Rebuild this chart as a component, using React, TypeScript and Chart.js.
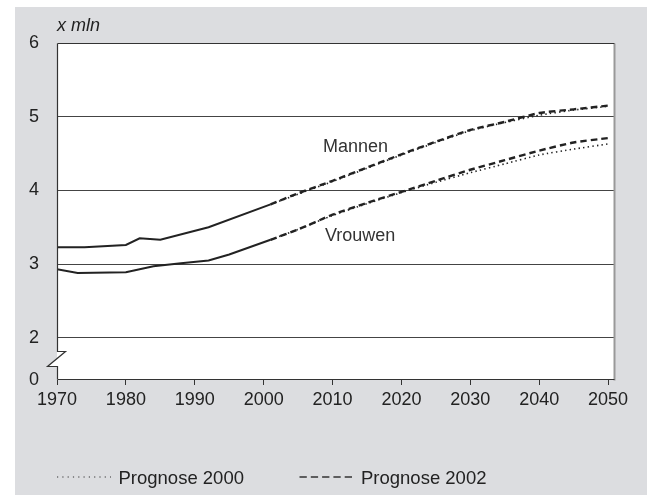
import React, { useEffect, useRef } from 'react';
import { Chart, registerables } from 'chart.js';

Chart.register(...registerables);

// ---- data ----
const mannenHistYears = [1970, 1974, 1980, 1982, 1985, 1992, 2001];
const mannenHist = [3.23, 3.23, 3.26, 3.35, 3.33, 3.5, 3.81];

const vrouwenHistYears = [1970, 1973, 1980, 1984, 1988, 1992, 1995, 2001];
const vrouwenHist = [2.93, 2.88, 2.89, 2.97, 3.01, 3.05, 3.13, 3.33];

const projYears = [2001, 2005, 2010, 2015, 2020, 2025, 2030, 2035, 2040, 2045, 2050];
const mannen2002 = [3.81, 3.96, 4.13, 4.31, 4.49, 4.66, 4.82, 4.93, 5.05, 5.1, 5.15];
const mannen2000 = [3.81, 3.95, 4.12, 4.3, 4.48, 4.65, 4.81, 4.92, 5.02, 5.09, 5.14];
const vrouwen2002 = [3.33, 3.47, 3.67, 3.83, 3.98, 4.13, 4.28, 4.41, 4.54, 4.65, 4.71];
const vrouwen2000 = [3.33, 3.47, 3.66, 3.82, 3.97, 4.11, 4.24, 4.36, 4.48, 4.56, 4.63];

const xTickValues = [1970, 1980, 1990, 2000, 2010, 2020, 2030, 2040, 2050];
const yTickValues = [0, 2, 3, 4, 5, 6];
const yTickLabels = ['0', '2', '3', '4', '5', '6'];
const gridValues = [2, 3, 4, 5];

const unitLabel = 'x mln';
const seriesLabels = [
  { text: 'Mannen', year: 2008.6, value: 4.52 },
  { text: 'Vrouwen', year: 2008.9, value: 3.31 },
];
const legendLabels = ['Prognose 2000', 'Prognose 2002'];

// the y axis is broken: value 0 is drawn at this position
const BREAK_POS = 1.427;

const FONT = "'Liberation Sans', Arial, Helvetica, sans-serif";
const INK = '#222';
const BG = '#dcdde0';

const pts = (xs: number[], ys: number[]) => xs.map((x, i) => ({ x, y: ys[i] }));
const mapY = (v: number) => (v === 0 ? BREAK_POS : v);

export default function App() {
  const ref = useRef<HTMLCanvasElement>(null);

  useEffect(() => {
    const canvas = ref.current!;
    const decor = {
      id: 'decor',
      beforeDraw(chart: any) {
        const { ctx, chartArea: a } = chart;
        ctx.save();
        ctx.fillStyle = '#fff';
        ctx.fillRect(0, 0, chart.width, chart.height);
        ctx.fillStyle = BG;
        ctx.fillRect(15, 7, chart.width - 15, chart.height - 7);
        ctx.fillStyle = '#fff';
        ctx.fillRect(a.left, a.top, a.right - a.left, a.bottom - a.top);
        ctx.restore();
      },
      afterDraw(chart: any) {
        const { ctx, chartArea: a, scales } = chart;
        const xs = scales.x;
        const ys = scales.y;
        ctx.save();
        const L = Math.round(a.left) + 0.5;
        const T = Math.round(a.top) + 0.5;
        const R = Math.round(a.right) - 0.5;
        const B = Math.round(a.bottom) - 0.5;
        // right border (gray)
        ctx.strokeStyle = '#999';
        ctx.lineWidth = 2;
        ctx.beginPath();
        ctx.moveTo(R, T);
        ctx.lineTo(R, B + 1);
        ctx.stroke();
        // top, bottom
        ctx.strokeStyle = '#333';
        ctx.lineWidth = 1.2;
        ctx.beginPath();
        ctx.moveTo(L, T);
        ctx.lineTo(R, T);
        ctx.moveTo(L, B);
        ctx.lineTo(R, B);
        ctx.stroke();
        // left axis with break
        const z1 = B - 28;
        const z2 = B - 13;
        ctx.fillStyle = '#fff';
        ctx.beginPath();
        ctx.moveTo(L, z1);
        ctx.lineTo(L + 8, z1);
        ctx.lineTo(L - 10, z2);
        ctx.lineTo(L, z2);
        ctx.closePath();
        ctx.fill();
        ctx.beginPath();
        ctx.moveTo(L, T);
        ctx.lineTo(L, z1);
        ctx.lineTo(L + 8, z1);
        ctx.lineTo(L - 10, z2);
        ctx.lineTo(L, z2);
        ctx.lineTo(L, B);
        ctx.stroke();

        // unit label
        ctx.fillStyle = INK;
        ctx.font = `italic 18px ${FONT}`;
        ctx.textAlign = 'left';
        ctx.textBaseline = 'alphabetic';
        ctx.fillText(unitLabel, a.left, 31);

        // series labels
        ctx.font = `18px ${FONT}`;
        ctx.fillStyle = '#333';
        seriesLabels.forEach((s) => {
          ctx.fillText(s.text, xs.getPixelForValue(s.year), ys.getPixelForValue(s.value));
        });

        // legend
        const ly = 477;
        ctx.strokeStyle = '#333';
        ctx.lineWidth = 1.2;
        ctx.setLineDash([1.2, 4.1]);
        ctx.beginPath();
        ctx.moveTo(57, ly);
        ctx.lineTo(111, ly);
        ctx.stroke();
        ctx.lineWidth = 1.6;
        ctx.setLineDash([7.3, 4]);
        ctx.beginPath();
        ctx.moveTo(299.5, ly);
        ctx.lineTo(353, ly);
        ctx.stroke();
        ctx.setLineDash([]);
        ctx.fillStyle = INK;
        ctx.font = `18.5px ${FONT}`;
        ctx.fillText(legendLabels[0], 118.5, 483.5);
        ctx.fillText(legendLabels[1], 361, 483.5);
        ctx.restore();
      },
    };

    const solid = { borderColor: INK, borderWidth: 2, pointRadius: 0, tension: 0, fill: false };
    const dotted = { borderColor: INK, borderWidth: 1.6, borderDash: [1.4, 3.2], pointRadius: 0, tension: 0.2, fill: false };
    const dashed = { borderColor: INK, borderWidth: 2.4, borderDash: [6.5, 4], pointRadius: 0, tension: 0.2, fill: false };

    const chart = new Chart(canvas, {
      type: 'line',
      data: {
        datasets: [
          { label: 'Mannen', data: pts(mannenHistYears, mannenHist), ...solid },
          { label: 'Vrouwen', data: pts(vrouwenHistYears, vrouwenHist), ...solid },
          { label: 'Mannen P2000', data: pts(projYears, mannen2000), ...dotted },
          { label: 'Vrouwen P2000', data: pts(projYears, vrouwen2000), ...dotted },
          { label: 'Mannen P2002', data: pts(projYears, mannen2002), ...dashed },
          { label: 'Vrouwen P2002', data: pts(projYears, vrouwen2002), ...dashed },
        ] as any,
      },
      options: {
        responsive: false,
        animation: false,
        devicePixelRatio: 1,
        layout: { padding: { top: 43, right: 32, left: 0, bottom: 0 } },
        plugins: { legend: { display: false }, tooltip: { enabled: false } },
        scales: {
          x: {
            type: 'linear',
            min: 1970,
            max: 2051,
            afterBuildTicks: (s: any) => {
              s.ticks = xTickValues.map((v) => ({ value: v }));
            },
            afterFit: (s: any) => {
              s.height = 115;
            },
            border: { display: false },
            grid: { drawOnChartArea: false, drawTicks: true, tickLength: 5, color: '#333', lineWidth: 1 },
            ticks: {
              callback: (v: any) => String(v),
              padding: 4,
              color: INK,
              font: { family: FONT, size: 18 },
              maxRotation: 0,
              autoSkip: false,
            },
          },
          y: {
            type: 'linear',
            min: BREAK_POS,
            max: 6,
            afterBuildTicks: (s: any) => {
              s.ticks = yTickValues.map((v) => ({ value: mapY(v) }));
            },
            afterFit: (s: any) => {
              s.width = 57;
            },
            border: { display: false },
            grid: {
              drawTicks: false,
              lineWidth: 1,
              color: (c: any) => (c.tick && gridValues.includes(c.tick.value) ? '#444' : 'rgba(0,0,0,0)'),
            },
            ticks: {
              callback: (v: any) => {
                const i = yTickValues.findIndex((t) => Math.abs(mapY(t) - v) < 1e-6);
                return i >= 0 ? yTickLabels[i] : '';
              },
              padding: 18,
              color: INK,
              font: { family: FONT, size: 18 },
              autoSkip: false,
            },
          },
        },
      } as any,
      plugins: [decor],
    });
    return () => chart.destroy();
  }, []);

  return (
    <div style={{ position: 'fixed', left: 0, top: 0, width: 647, height: 495, background: '#fff' }}>
      <canvas ref={ref} width={647} height={495} style={{ width: 647, height: 495, display: 'block' }} />
    </div>
  );
}
